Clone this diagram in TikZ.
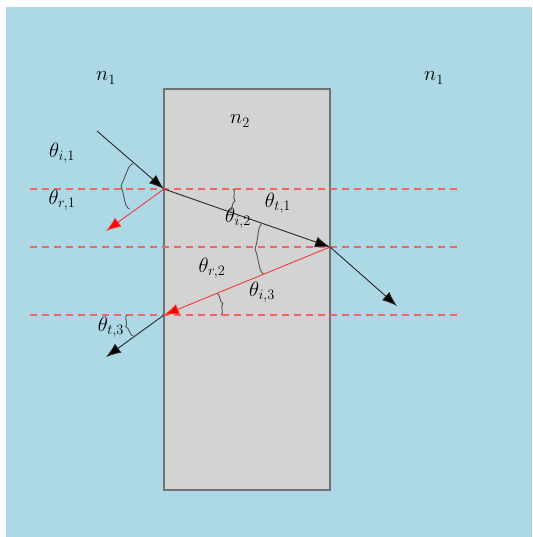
\documentclass[tikz,border=0pt]{standalone}
\usetikzlibrary{arrows.meta,calc}
\definecolor{bgblue}{RGB}{173,216,230}
\definecolor{blockgray}{RGB}{211,211,211}
\definecolor{blockedge}{RGB}{110,115,120}
\definecolor{raygray}{RGB}{40,40,40}
\definecolor{rayred}{RGB}{245,55,55}
\definecolor{guidered}{RGB}{238,100,105}
\newcommand\anglebrace[5]{%
  \begin{scope}[shift={(#1)}]
    \draw[bracestyle] plot[smooth, tension=0.55] coordinates {
      ({#3}:{#2})
      ({#3+0.10*(#4-#3)}:{#2+0.45*#5})
      ({#3+0.40*(#4-#3)}:{#2+0.5*#5})
      ({0.5*(#3+#4)}:{#2+#5})
      ({#3+0.60*(#4-#3)}:{#2+0.5*#5})
      ({#3+0.90*(#4-#3)}:{#2+0.45*#5})
      ({#4}:{#2})
    };
  \end{scope}}
\begin{document}
\begin{tikzpicture}[x=1pt,y=-1pt,
  font=\fontsize{21}{25}\selectfont,
  bg/.style={fill=bgblue},
  block/.style={fill=blockgray, draw=blockedge, line width=1.3pt},
  guideline/.style={draw=guidered, line width=1.05pt, dash pattern=on 7pt off 5pt},
  ray/.style={draw=raygray, line width=0.9pt, -{Latex[length=15pt,width=11pt,fill=black]}},
  redray/.style={draw=rayred, line width=0.9pt, -{Latex[length=15pt,width=11pt,fill=red]}},
  bracestyle/.style={draw=raygray!80, line width=0.9pt},
  lbl/.style={inner sep=0pt}
]
\useasboundingbox (0,0) rectangle (532,537);
\fill[bg] (6,7) rectangle (532,537);
\draw[block] (164,89) rectangle (330,490);

% guide lines
\coordinate (d1l) at (30,189); \coordinate (d1r) at (458,189);
\coordinate (d2l) at (30,247); \coordinate (d2r) at (458,247);
\coordinate (d3l) at (30,315); \coordinate (d3r) at (458,315);
\draw[guideline] (d1l) -- (d1r);
\draw[guideline] (d2l) -- (d2r);
\draw[guideline] (d3l) -- (d3r);

% ray points
\coordinate (S)  at (97,131);
\coordinate (I1) at (164,189);
\coordinate (R1) at (106,231);
\coordinate (I2) at (330,247);
\coordinate (T2) at (397,306);
\coordinate (I3) at (164,315);
\coordinate (T3) at (106,357);

\draw[ray] (S) -- (I1);
\draw[redray] (I1) -- (R1);
\draw[ray] (I1) -- (I2);
\draw[ray] (I2) -- (T2);
\draw[redray] (I2) -- (I3);
\draw[ray] (I3) -- (T3);

% angle braces
\anglebrace{I1}{40}{219}{150}{3}
\anglebrace{I1}{69}{0}{19}{3}
\anglebrace{I2}{72}{199}{158}{3}
\anglebrace{I3}{57}{338}{360}{3}
\anglebrace{I3}{37}{180}{146}{3}

% labels
\node[lbl] (n1a) at (106,78) {$n_1$};
\node[lbl] (n1b) at (434,78) {$n_1$};
\node[lbl] (n2)  at (240,121) {$n_2$};
\node[lbl] (ti1) at (62,153) {$\theta_{i,1}$};
\node[lbl] (tr1) at (62,200) {$\theta_{r,1}$};
\node[lbl] (ti2) at (238,218) {$\theta_{i,2}$};
\node[lbl] (tt1) at (278,203) {$\theta_{t,1}$};
\node[lbl] (tr2) at (212,268) {$\theta_{r,2}$};
\node[lbl] (ti3) at (262,292) {$\theta_{i,3}$};
\node[lbl] (tt3) at (111,327) {$\theta_{t,3}$};
\end{tikzpicture}
\end{document}
